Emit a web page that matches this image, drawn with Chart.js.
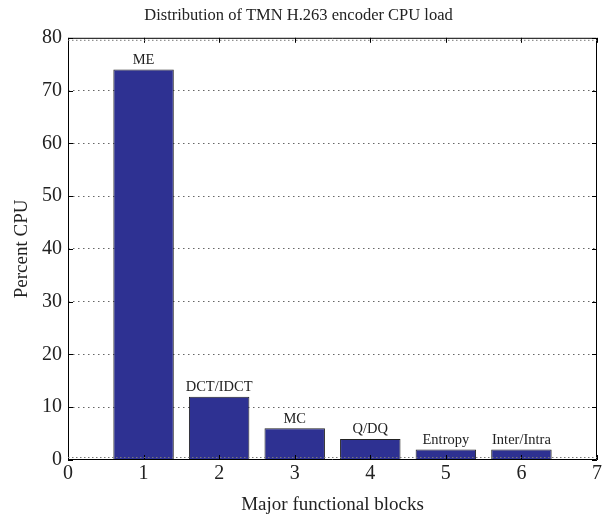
<!DOCTYPE html>
<html>
<head>
<meta charset="utf-8">
<script src="https://cdn.jsdelivr.net/npm/chart.js@4/dist/chart.umd.min.js"></script>
<style>
  html, body { margin: 0; padding: 0; background: #fff; }
  #wrap { width: 612px; height: 516px; }
</style>
</head>
<body>
<div id="wrap"><canvas id="cpuChart"></canvas></div>
<script>
// data
const blockPositions = [1, 2, 3, 4, 5, 6];
const percentCpu = [74, 12, 6, 4, 2, 2];
const blockNames = ['ME', 'DCT/IDCT', 'MC', 'Q/DQ', 'Entropy', 'Inter/Intra'];

const SERIF = '"Liberation Serif", "DejaVu Serif", serif';

// text over each bar
const barLabels = {
  id: 'barLabels',
  afterDatasetsDraw(chart) {
    const ctx = chart.ctx;
    const meta = chart.getDatasetMeta(0);
    ctx.save();
    ctx.font = '14.5px ' + SERIF;
    ctx.fillStyle = '#222';
    ctx.textAlign = 'center';
    ctx.textBaseline = 'bottom';
    meta.data.forEach((bar, i) => {
      ctx.fillText(blockNames[i], bar.x, bar.y - 2);
    });
    ctx.restore();
  }
};

// box round the plot with small inward ticks (matlab style)
const boxFrame = {
  id: 'boxFrame',
  afterDraw(chart) {
    const { ctx, chartArea: a, scales } = chart;
    const len = 5;
    ctx.save();
    ctx.strokeStyle = '#000';
    ctx.lineWidth = 1;
    ctx.beginPath();
    ctx.rect(a.left + 0.5, a.top + 0.5, a.right - a.left - 1, a.bottom - a.top - 1);
    scales.x.ticks.forEach(t => {
      const px = Math.round(scales.x.getPixelForValue(t.value)) + 0.5;
      ctx.moveTo(px, a.bottom); ctx.lineTo(px, a.bottom - len);
      ctx.moveTo(px, a.top); ctx.lineTo(px, a.top + len);
    });
    scales.y.ticks.forEach(t => {
      const py = Math.round(scales.y.getPixelForValue(t.value)) + 0.5;
      ctx.moveTo(a.left, py); ctx.lineTo(a.left + len, py);
      ctx.moveTo(a.right, py); ctx.lineTo(a.right - len, py);
    });
    ctx.stroke();
    // faint dotted rows just inside top and bottom edges
    ctx.strokeStyle = '#777';
    ctx.setLineDash([1.5, 2.5]);
    ctx.beginPath();
    ctx.moveTo(a.left, a.bottom - 2.5); ctx.lineTo(a.right, a.bottom - 2.5);
    ctx.moveTo(a.left, a.top + 2.5); ctx.lineTo(a.right, a.top + 2.5);
    ctx.stroke();
    ctx.restore();
  }
};

new Chart(document.getElementById('cpuChart'), {
  type: 'bar',
  data: {
    datasets: [{
      data: blockPositions.map((x, i) => ({ x: x, y: percentCpu[i] })),
      backgroundColor: '#2E3192',
      borderColor: '#222',
      borderWidth: 1,
      categoryPercentage: 1,
      barPercentage: 0.8
    }]
  },
  options: {
    responsive: true,
    maintainAspectRatio: false,
    animation: false,
    layout: { padding: { left: 0, right: 15, top: 0, bottom: 0 } },
    plugins: {
      legend: { display: false },
      tooltip: { enabled: false },
      title: {
        display: true,
        text: 'Distribution of TMN H.263 encoder CPU load',
        color: '#222',
        font: { family: SERIF, size: 16.5, weight: 'normal' },
        padding: { top: 6, bottom: 12 }
      }
    },
    scales: {
      x: {
        type: 'linear',
        min: 0,
        max: 7,
        offset: false,
        ticks: {
          stepSize: 1,
          color: '#222',
          padding: 2,
          font: { family: SERIF, size: 20 }
        },
        grid: { display: false, drawTicks: false },
        border: { display: false },
        title: {
          display: true,
          text: 'Major functional blocks',
          color: '#222',
          font: { family: SERIF, size: 19 },
          padding: { top: 2, bottom: 0 }
        },
        afterFit(scale) { scale.height = 56; }
      },
      y: {
        min: 0,
        max: 80,
        ticks: {
          stepSize: 10,
          color: '#222',
          padding: 6,
          font: { family: SERIF, size: 20 }
        },
        grid: {
          drawTicks: false,
          color: (c) => (c.tick.value === 0 || c.tick.value === 80) ? 'rgba(0,0,0,0)' : '#666',
          lineWidth: 1
        },
        border: { display: false, dash: [1.5, 3.5] },
        title: {
          display: true,
          text: 'Percent CPU',
          color: '#222',
          font: { family: SERIF, size: 19 },
          padding: { top: 11, bottom: 0 }
        },
        afterFit(scale) { scale.width = 68; }
      }
    }
  },
  plugins: [barLabels, boxFrame]
});
</script>
</body>
</html>
